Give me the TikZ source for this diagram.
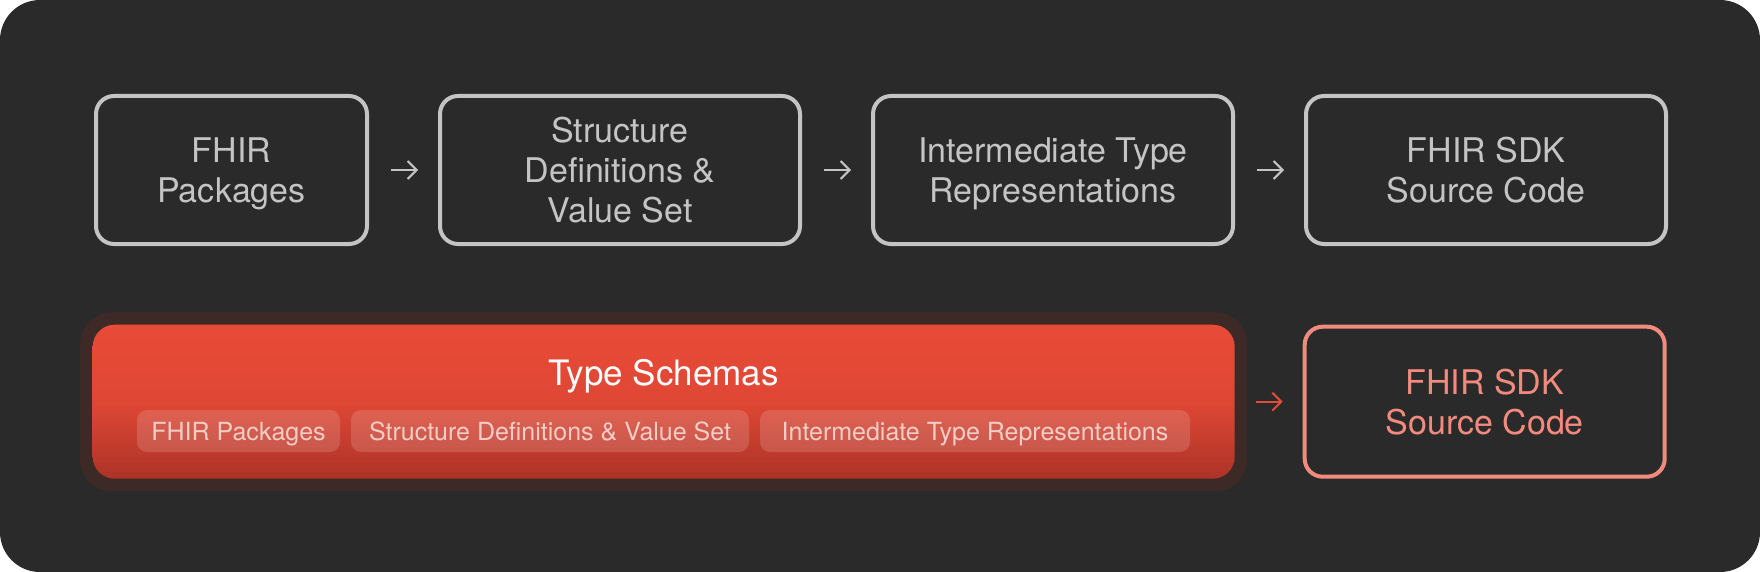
\documentclass[tikz,border=0pt]{standalone}
\usepackage{fontspec}
\setmainfont{TeX Gyre Heros}
\usetikzlibrary{positioning}
\usetikzlibrary{arrows.meta}

\definecolor{bgdark}{HTML}{2A2A2A}
\definecolor{boxgray}{HTML}{C4C4C4}
\definecolor{halobrown}{HTML}{3D2A27}
\definecolor{redtop}{HTML}{E84B37}
\definecolor{redbottom}{HTML}{AC3327}
\definecolor{salmon}{HTML}{F28B7D}
\definecolor{arrowred}{HTML}{E34A37}
\definecolor{chiptext}{HTML}{F3CDC6}

\tikzset{
  stagebox/.style={draw=boxgray, line width=4pt, rounded corners=18pt, text=boxgray,
    minimum width=360pt, minimum height=148pt, outer sep=0pt, align=center,
    font=\fontsize{34}{40}\selectfont, text depth=0pt},
  flow/.style={-{Straight Barb[length=9pt,width=18pt]}, line width=2pt, draw=boxgray,
    shorten <=24pt, shorten >=22pt},
  chip/.style={fill=white, fill opacity=0.15, text opacity=1, text=chiptext,
    rounded corners=10pt, minimum height=42pt, inner sep=0pt, outer sep=0pt,
    font=\fontsize{25}{28}\selectfont, text height=18pt, text depth=0pt}
}

\begin{document}
\begin{tikzpicture}
    % the dark card behind everything
    \fill[bgdark, rounded corners=40pt] (0,0) rectangle (1760pt,-572pt);
    \useasboundingbox (0,0) rectangle (1760pt,-572pt);

    % the upper row of stages
    \node[stagebox, minimum width=271pt, anchor=west] (fhir) at (96pt,-170pt) {FHIR\\Packages};
    \node[stagebox, right=73pt of fhir] (sdef) {Structure\\Definitions \&\\Value Set};
    \node[stagebox, right=73pt of sdef] (itr) {Intermediate Type\\Representations};
    \node[stagebox, right=73pt of itr] (sdk) {FHIR SDK\\Source Code};

    % the arrows between the stages
    \draw[flow] (fhir) -- (sdef);
    \draw[flow] (sdef) -- (itr);
    \draw[flow] (itr) -- (sdk);

    % the type schemas block with its glow
    \node[fill=halobrown, rounded corners=32pt, minimum width=1167pt, minimum height=179pt,
      anchor=north west] (halo) at (80pt,-312pt) {};
    \node[top color=redtop, bottom color=redbottom, middle color=redtop!85!redbottom,
      rounded corners=22pt, minimum width=1142pt, minimum height=154pt, outer sep=0pt] (ts) at (halo.center) {};
    \node[font=\fontsize{35}{40}\selectfont, text=white, anchor=base] (tstitle)
      at ([yshift=16pt]ts.center) {Type Schemas};

    % the three chips inside
    \node[chip, minimum width=203pt, anchor=west] (c1) at (137pt,-431pt) {FHIR Packages};
    \node[chip, minimum width=398pt, right=11pt of c1] (c2) {Structure Definitions \& Value Set};
    \node[chip, minimum width=430pt, right=11pt of c2] (c3) {Intermediate Type Representations};

    % the output and its arrow
    \node[stagebox, draw=salmon, text=salmon, minimum height=150pt, right=70pt of ts] (out) {FHIR SDK\\Source Code};
    \draw[flow, draw=arrowred, shorten <=21pt] (ts) -- (out);
\end{tikzpicture}
\end{document}
